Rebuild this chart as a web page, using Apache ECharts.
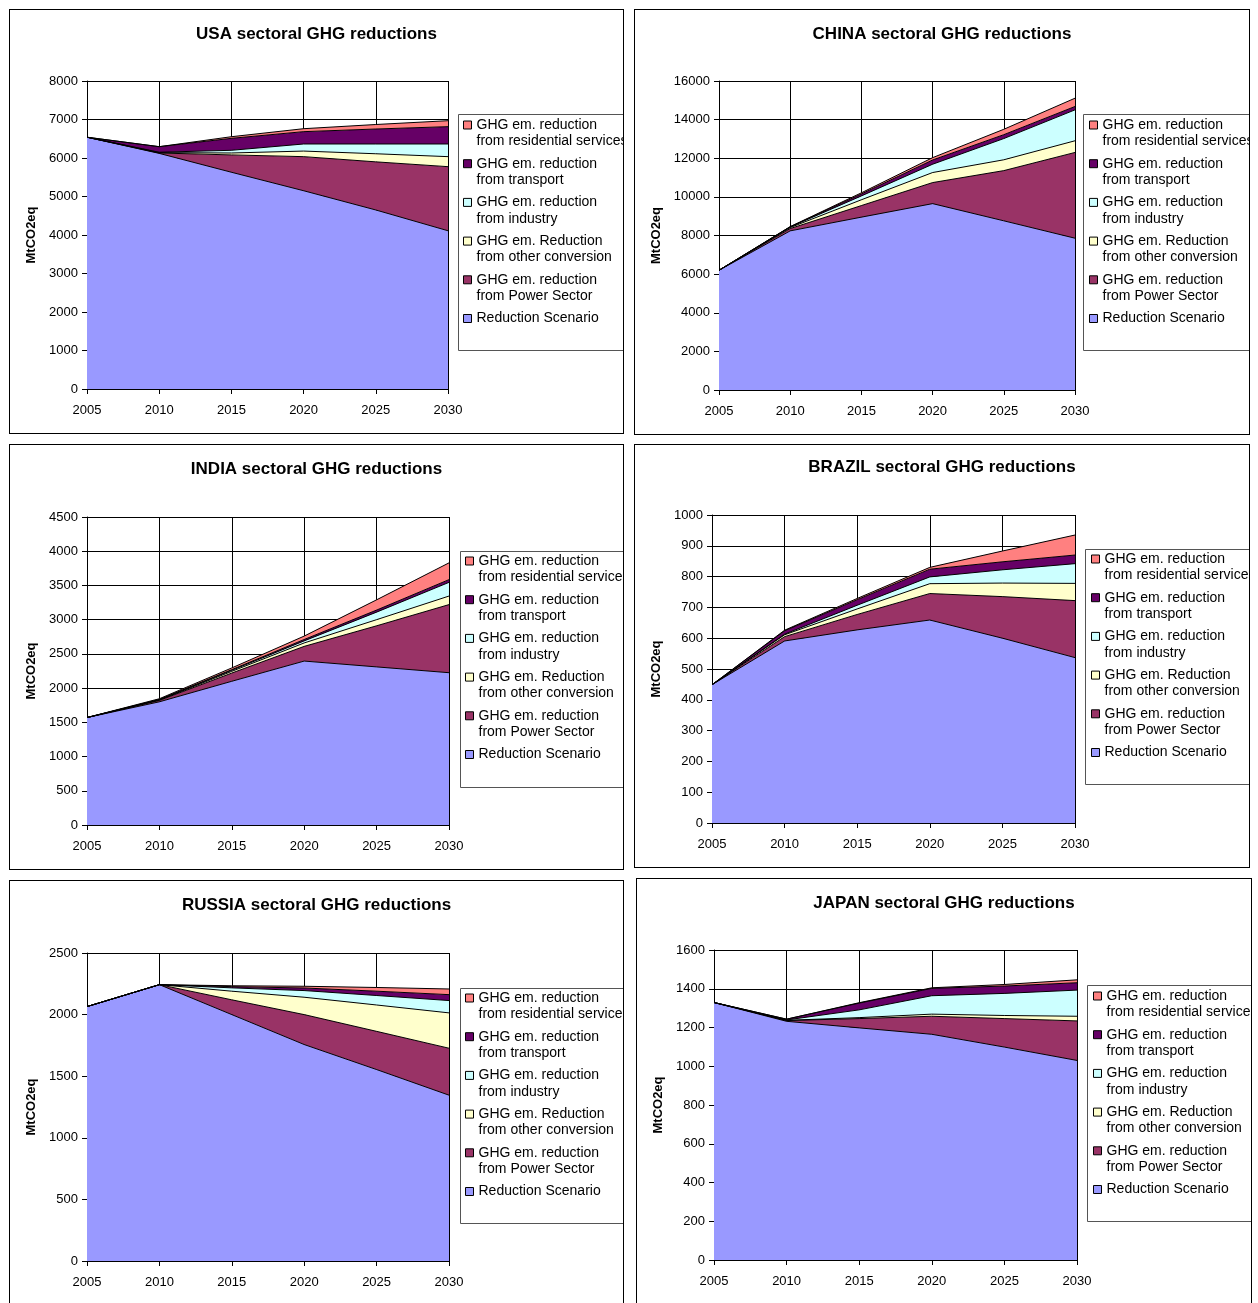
<!DOCTYPE html>
<html>
<head>
<meta charset="utf-8">
<script src="https://cdn.jsdelivr.net/npm/echarts@6/dist/echarts.min.js"></script>
<style>
  html, body { margin: 0; padding: 0; background: #fff; width: 1258px; height: 1303px; overflow: hidden; position: relative; }
  .panel { position: absolute; border: 1px solid #000; box-sizing: border-box; background: #fff; }
</style>
</head>
<body>
<div id="usa" class="panel" style="left:9px;top:9px;width:615px;height:425px"></div>
<div id="china" class="panel" style="left:634px;top:9px;width:616px;height:426px"></div>
<div id="india" class="panel" style="left:9px;top:444px;width:615px;height:426px"></div>
<div id="brazil" class="panel" style="left:634px;top:444px;width:616px;height:424px"></div>
<div id="russia" class="panel" style="left:9px;top:880px;width:615px;height:440px"></div>
<div id="japan" class="panel" style="left:636px;top:878px;width:616px;height:440px"></div>
<script>
// Years on the horizontal axis
const years = ['2005', '2010', '2015', '2020', '2025', '2030'];

// Stack order, bottom to top
const sectorNames = [
  'Reduction Scenario',
  'GHG em. reduction from Power Sector',
  'GHG em. Reduction from other conversion',
  'GHG em. reduction from industry',
  'GHG em. reduction from transport',
  'GHG em. reduction from residential services'
];
const sectorColors = ['#9999FF', '#993366', '#FFFFCC', '#CCFFFF', '#660066', '#FF8080'];

// USA (MtCO2eq)
const usaReduction   = [6540, 6120, 5630, 5150, 4650, 4110];
const usaPower       = [0, 10, 450, 885, 1250, 1665];
const usaOther       = [0, 10, 50, 145, 210, 260];
const usaIndustry    = [0, 10, 70, 184, 254, 329];
const usaTransport   = [0, 144, 311, 320, 389, 450];
const usaResidential = [0, 0, 42, 77, 117, 155];

// CHINA
const chinaReduction   = [6200, 8240, 8950, 9650, 8760, 7860];
const chinaPower       = [0, 120, 600, 1090, 2600, 4440];
const chinaOther       = [0, 50, 300, 520, 560, 605];
const chinaIndustry    = [0, 30, 200, 430, 1100, 1600];
const chinaTransport   = [0, 10, 100, 220, 200, 175];
const chinaResidential = [0, 10, 60, 120, 280, 430];

// INDIA
const indiaReduction   = [1570, 1800, 2100, 2395, 2310, 2225];
const indiaPower       = [0, 20, 120, 215, 600, 995];
const indiaOther       = [0, 5, 25, 50, 90, 125];
const indiaIndustry    = [0, 5, 15, 30, 110, 200];
const indiaTransport   = [0, 5, 10, 20, 30, 40];
const indiaResidential = [0, 10, 25, 50, 150, 245];

// BRAZIL
const brazilReduction   = [449, 591, 627, 659, 600, 537];
const brazilPower       = [0, 14, 50, 86, 135, 185];
const brazilOther       = [0, 6, 18, 32, 44, 56];
const brazilIndustry    = [0, 2, 12, 22, 43, 64];
const brazilTransport   = [0, 11, 18, 25, 26, 28];
const brazilResidential = [0, 2, 4, 6, 35, 65];

// RUSSIA
const russiaReduction   = [2065, 2243, 2000, 1757, 1554, 1346];
const russiaPower       = [0, 0, 120, 243, 310, 381];
const russiaOther       = [0, 0, 70, 141, 214, 287];
const russiaIndustry    = [0, 0, 27, 54, 77, 100];
const russiaTransport   = [0, 0, 10, 21, 35, 48];
const russiaResidential = [0, 0, 7, 14, 30, 46];

// JAPAN
const japanReduction   = [1329, 1232, 1198, 1165, 1099, 1030];
const japanPower       = [0, 4, 48, 93, 147, 204];
const japanOther       = [0, 1, 5, 11, 16, 24];
const japanIndustry    = [0, 2, 40, 95, 114, 135];
const japanTransport   = [0, 4, 35, 38, 38, 38];
const japanResidential = [0, 0, 2, 3, 8, 15];

const FONT = '"Liberation Sans", Arial, sans-serif';
const LH = 16.5;          // legend line height
const ITEM_STEP = 38.7;   // distance between legend entries

// Two-line legend labels: "GHG em. reduction" / "from ..."
function legendLabel(name) {
  const lines = name.replace(/^(GHG em\. \w+) /, '$1\n').split('\n');
  return lines.map(l => '{t|' + l + '}').join('\n');
}

function buildPanel(id, title, yMax, yStep, stacks, lay) {
  const chart = echarts.init(document.getElementById(id), null, { renderer: 'canvas' });
  const series = sectorNames.map((name, i) => ({
    name: name,
    type: 'line',
    stack: 'total',
    data: stacks[i],
    symbol: 'none',
    silent: true,
    lineStyle: { color: '#000', width: 1 },
    itemStyle: { color: sectorColors[i] },
    areaStyle: { color: sectorColors[i], opacity: 1 },
    emphasis: { disabled: true }
  }));
  // Entries listed top of stack first; padding keeps the first text line level with the swatch
  const legendData = sectorNames.slice().reverse().map(n => ({
    name: n,
    textStyle: { padding: n.indexOf('GHG') === 0 ? [LH, 0, 0, 0] : [LH, 0, LH, 0] }
  }));
  chart.setOption({
    animation: false,
    textStyle: { fontFamily: FONT },
    title: {
      text: title, left: 'center', top: lay.titleTop,
      textStyle: { fontFamily: FONT, fontSize: 17, fontWeight: 'bold', color: '#000' }
    },
    grid: { left: lay.gl, top: lay.gt, width: lay.gw, height: lay.gh, containLabel: false },
    legend: {
      orient: 'vertical', left: lay.ll, top: lay.c1 - 1.5 * LH, padding: 0,
      itemWidth: 8, itemHeight: 8, itemGap: ITEM_STEP - 3 * LH, icon: 'rect',
      selectedMode: false,
      itemStyle: { borderColor: '#000', borderWidth: 1 },
      textStyle: {
        fontFamily: FONT, fontSize: 14, lineHeight: LH, color: '#000',
        rich: { t: { fontFamily: FONT, fontSize: 14, lineHeight: LH, color: '#000' } }
      },
      formatter: legendLabel,
      data: legendData
    },
    graphic: [{
      type: 'rect', silent: true,
      shape: { x: lay.bx + 0.5, y: lay.by + 0.5, width: 200, height: lay.bh },
      style: { fill: 'none', stroke: '#555', lineWidth: 1 }
    }],
    xAxis: {
      type: 'category', data: years, boundaryGap: false,
      axisLine: { show: true, lineStyle: { color: '#000', width: 1 } },
      axisTick: { show: true, length: 5, lineStyle: { color: '#000' } },
      axisLabel: { color: '#000', fontSize: 13, fontFamily: FONT, margin: 15 },
      splitLine: { show: true, lineStyle: { color: '#000', width: 1 } }
    },
    yAxis: {
      type: 'value', min: 0, max: yMax, interval: yStep,
      name: 'MtCO2eq', nameLocation: 'middle', nameGap: lay.ng,
      nameTextStyle: { color: '#000', fontSize: 13, fontWeight: 'bold', fontFamily: FONT },
      axisLine: { show: true, lineStyle: { color: '#000', width: 1 } },
      axisTick: { show: true, length: 5, lineStyle: { color: '#000' } },
      axisLabel: { color: '#000', fontSize: 13, fontFamily: FONT, margin: 9, formatter: v => String(v) },
      splitLine: { show: true, lineStyle: { color: '#000', width: 1 } }
    },
    series: series
  });
}

buildPanel('usa', 'USA sectoral GHG reductions', 8000, 1000,
  [usaReduction, usaPower, usaOther, usaIndustry, usaTransport, usaResidential],
  { titleTop: 10.5, gl: 77, gt: 71, gw: 361, gh: 308, ng: 40, ll: 453, c1: 115, bx: 448, by: 104, bh: 236 });

buildPanel('china', 'CHINA sectoral GHG reductions', 16000, 2000,
  [chinaReduction, chinaPower, chinaOther, chinaIndustry, chinaTransport, chinaResidential],
  { titleTop: 10.5, gl: 84, gt: 71, gw: 356, gh: 309, ng: 48, ll: 454, c1: 115, bx: 448, by: 104, bh: 236 });

buildPanel('india', 'INDIA sectoral GHG reductions', 4500, 500,
  [indiaReduction, indiaPower, indiaOther, indiaIndustry, indiaTransport, indiaResidential],
  { titleTop: 10.5, gl: 77, gt: 72, gw: 362, gh: 308, ng: 40, ll: 455, c1: 116, bx: 450, by: 106, bh: 236 });

buildPanel('brazil', 'BRAZIL sectoral GHG reductions', 1000, 100,
  [brazilReduction, brazilPower, brazilOther, brazilIndustry, brazilTransport, brazilResidential],
  { titleTop: 8.5, gl: 77, gt: 70, gw: 363, gh: 308, ng: 40, ll: 456, c1: 114, bx: 450, by: 104, bh: 235 });

buildPanel('russia', 'RUSSIA sectoral GHG reductions', 2500, 500,
  [russiaReduction, russiaPower, russiaOther, russiaIndustry, russiaTransport, russiaResidential],
  { titleTop: 10.5, gl: 77, gt: 72, gw: 362, gh: 308, ng: 40, ll: 455, c1: 117, bx: 450, by: 107, bh: 235 });

buildPanel('japan', 'JAPAN sectoral GHG reductions', 1600, 200,
  [japanReduction, japanPower, japanOther, japanIndustry, japanTransport, japanResidential],
  { titleTop: 10.5, gl: 77, gt: 71, gw: 363, gh: 310, ng: 40, ll: 456, c1: 117, bx: 450, by: 106, bh: 236 });
</script>
</body>
</html>
